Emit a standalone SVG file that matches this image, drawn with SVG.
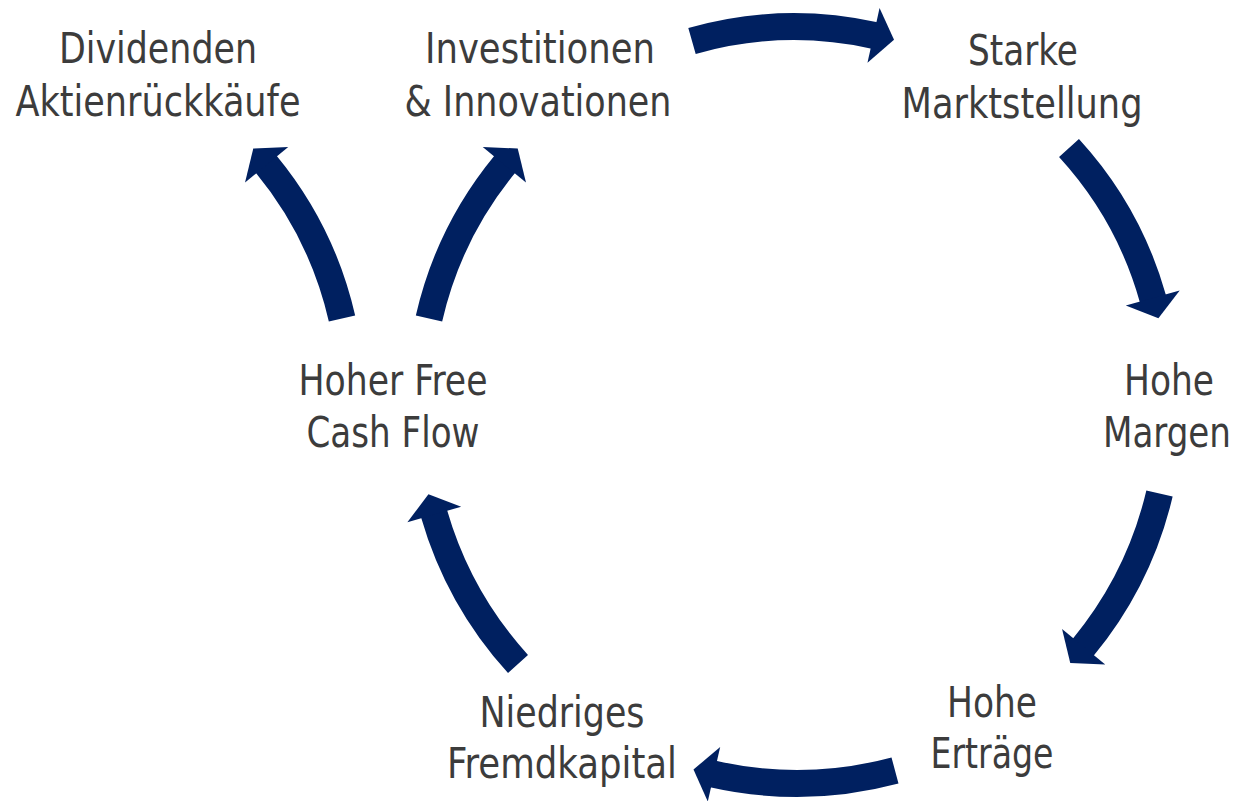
<svg xmlns="http://www.w3.org/2000/svg" width="1243" height="801" viewBox="0 0 1243 801">
<style>
.lbl{font-family:"Liberation Sans Narrow","DejaVu Sans Condensed","Roboto Condensed",Roboto,sans-serif;font-stretch:condensed;font-size:42px;fill:#3c3c3c;text-anchor:middle}
.arc{fill:none;stroke:#002060;stroke-width:27;stroke-linecap:butt;marker-end:url(#head)}
</style>
<defs>
<marker id="head" markerUnits="userSpaceOnUse" markerWidth="30" markerHeight="60" refX="1" refY="28" orient="auto" overflow="visible">
<path d="M0,0 L21,28 L0,56 Z" fill="#002060"/>
</marker>
</defs>
<rect width="1243" height="801" fill="#ffffff"/>
<g id="connectors">
<path class="arc" d="M692,41 A373,373 0 0,1 874.5,35.5"/>
<path class="arc" d="M1069,148 A372,372 0 0,1 1153,299"/>
<path class="arc" d="M1159.5,493.5 A378,378 0 0,1 1083,647.5"/>
<path class="arc" d="M895,770.5 A380,380 0 0,1 713,774"/>
<path class="arc" d="M518,664 A380,380 0 0,1 434,513.5"/>
<path class="arc" d="M429,318.5 A374,374 0 0,1 505,164"/>
<path class="arc" d="M342,318.5 A374,374 0 0,0 266,164"/>
</g>
<g id="dividenden">
<text class="lbl" x="158" y="63" textLength="198" lengthAdjust="spacingAndGlyphs">Dividenden</text>
<text class="lbl" x="158" y="116" textLength="285" lengthAdjust="spacingAndGlyphs">Aktienrückkäufe</text>
</g>
<g id="investitionen">
<text class="lbl" x="540" y="63" textLength="230" lengthAdjust="spacingAndGlyphs">Investitionen</text>
<text class="lbl" x="538" y="116" textLength="267" lengthAdjust="spacingAndGlyphs">&amp; Innovationen</text>
</g>
<g id="starke">
<text class="lbl" x="1023" y="65" textLength="110" lengthAdjust="spacingAndGlyphs">Starke</text>
<text class="lbl" x="1022" y="118" textLength="241" lengthAdjust="spacingAndGlyphs">Marktstellung</text>
</g>
<g id="margen">
<text class="lbl" x="1169" y="395" textLength="90" lengthAdjust="spacingAndGlyphs">Hohe</text>
<text class="lbl" x="1167" y="447" textLength="128" lengthAdjust="spacingAndGlyphs">Margen</text>
</g>
<g id="ertraege">
<text class="lbl" x="992" y="717" textLength="90" lengthAdjust="spacingAndGlyphs">Hohe</text>
<text class="lbl" x="992" y="768" textLength="123" lengthAdjust="spacingAndGlyphs">Erträge</text>
</g>
<g id="fremdkapital">
<text class="lbl" x="562" y="727" textLength="165" lengthAdjust="spacingAndGlyphs">Niedriges</text>
<text class="lbl" x="562" y="778" textLength="230" lengthAdjust="spacingAndGlyphs">Fremdkapital</text>
</g>
<g id="cashflow">
<text class="lbl" x="393" y="395" textLength="189" lengthAdjust="spacingAndGlyphs">Hoher Free</text>
<text class="lbl" x="393" y="447" textLength="173" lengthAdjust="spacingAndGlyphs">Cash Flow</text>
</g>
</svg>
